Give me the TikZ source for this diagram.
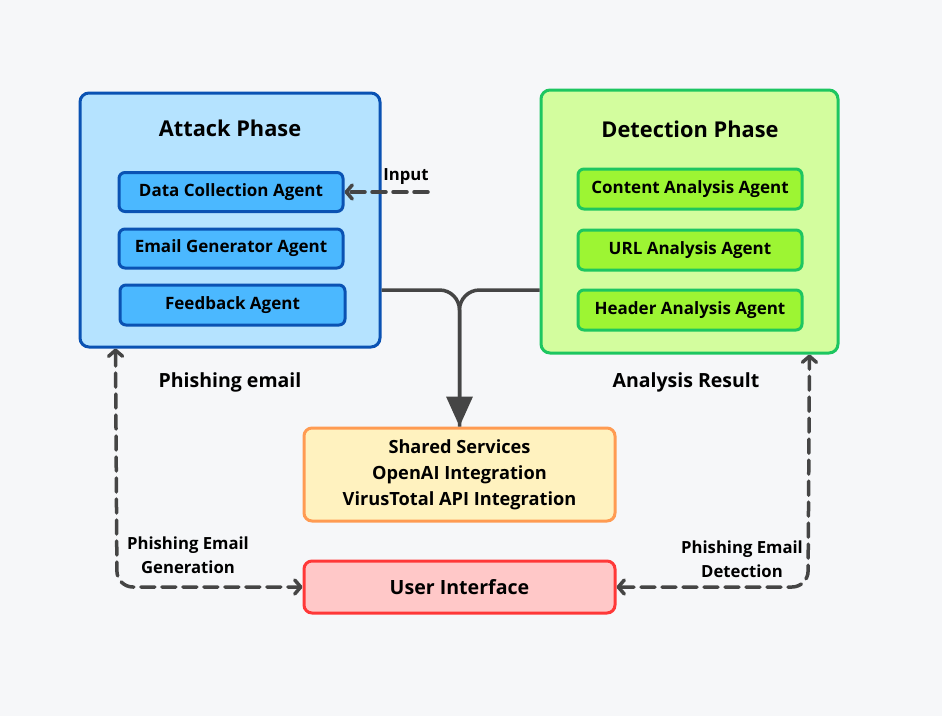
\documentclass[tikz,border=0pt]{standalone}
\usepackage{fontspec}
\setmainfont{Open Sans}
\usetikzlibrary{arrows.meta,positioning}
\definecolor{bggray}{HTML}{F6F7F9}
\definecolor{linegray}{HTML}{454545}
\definecolor{atkfill}{HTML}{B5E3FF}
\definecolor{atkdraw}{HTML}{0A52B3}
\definecolor{atkagent}{HTML}{4BB8FF}
\definecolor{detfill}{HTML}{D3FD9E}
\definecolor{detdraw}{HTML}{1DC660}
\definecolor{detagent}{HTML}{9DF533}
\definecolor{sharedfill}{HTML}{FFF2BF}
\definecolor{shareddraw}{HTML}{FF9B52}
\definecolor{uifill}{HTML}{FFC8C8}
\definecolor{uidraw}{HTML}{FF3838}
\tikzset{
  phasebox/.style={draw, line width=3pt, rounded corners=9pt},
  agentbox/.style={draw, line width=3pt, rounded corners=6pt, minimum width=224pt, minimum height=39pt, font=\fontsize{17}{20}\selectfont\bfseries},
  servicebox/.style={draw, line width=3pt, rounded corners=8pt, minimum width=311pt, align=center},
  flowlabel/.style={font=\fontsize{16.7}{24}\selectfont\bfseries, align=center},
  dashflow/.style={draw=linegray, line width=3.5pt, dash pattern=on 14pt off 7pt, rounded corners=16pt, line cap=round},
  barb/.tip={Straight Barb[length=6pt,width=14pt,line cap=round,line join=round]}
}
\begin{document}
\begin{tikzpicture}[x=1pt,y=-1pt]
\fill[bggray] (0,0) rectangle (942,716);
\useasboundingbox (0,0) rectangle (942,716);
% phases
\node[phasebox, fill=atkfill, draw=atkdraw, minimum width=300pt, minimum height=254pt] (attack) at (230,220) {};
\node[font=\fontsize{21.8}{24}\selectfont\bfseries] (attacktitle) at (230,128) {Attack Phase};
\node[agentbox, fill=atkagent, draw=atkdraw] (collect) at (231,192) {Data Collection Agent};
\node[agentbox, fill=atkagent, draw=atkdraw] (generate) at (231,248.5) {Email Generator Agent};
\node[agentbox, fill=atkagent, draw=atkdraw, minimum width=225pt, minimum height=40pt] (feedback) at (232.5,305) {Feedback Agent};
\node[phasebox, fill=detfill, draw=detdraw, minimum width=297pt, minimum height=263pt] (detect) at (689.5,221.5) {};
\node[font=\fontsize{21.8}{24}\selectfont\bfseries] (detecttitle) at (690,129) {Detection Phase};
\node[agentbox, fill=detagent, draw=detdraw, minimum height=40pt] (content) at (690,189) {Content Analysis Agent};
\node[agentbox, fill=detagent, draw=detdraw, minimum height=40pt] (url) at (690,250) {URL Analysis Agent};
\node[agentbox, fill=detagent, draw=detdraw, minimum height=40pt] (header) at (690,310) {Header Analysis Agent};
% services
\node[servicebox, fill=sharedfill, draw=shareddraw, minimum height=93pt, font=\fontsize{18.2}{26}\selectfont\bfseries] (shared) at (459.5,474.5) {Shared Services\\OpenAI Integration\\VirusTotal API Integration};
\node[servicebox, fill=uifill, draw=uidraw, minimum height=52pt, font=\fontsize{19.6}{22}\selectfont\bfseries] (ui) at (459.5,587) {User Interface};
% labels
\node[flowlabel] (inputlbl) at (406,177) {Input};
\node[flowlabel, font=\fontsize{19.5}{22}\selectfont\bfseries] (phishlbl) at (230,382) {Phishing email};
\node[flowlabel, font=\fontsize{19.5}{22}\selectfont\bfseries] (resultlbl) at (686,382) {Analysis Result};
\node[flowlabel] (genlbl) at (188,555) {Phishing Email\\Generation};
\node[flowlabel] (detlbl) at (742,559) {Phishing Email\\Detection};
% connectors
\coordinate (inputend) at (428,192);
\draw[dashflow, -barb] (inputend) -- (collect.east);
\draw[draw=linegray, line width=3.5pt, rounded corners=20pt] ([yshift=-68.5pt]detect.west) -| (shared.north);
\draw[draw=linegray, line width=3.5pt, rounded corners=20pt, -{Triangle[width=26pt,length=30pt,fill=linegray]}] ([yshift=-70pt]attack.east) -| (shared.north);
\draw[dashflow, barb-barb] ([xshift=37pt]attack.south west) -- (117,587) -- (ui.west);
\draw[dashflow, barb-barb] (ui.east) -- (808,587) -- ([xshift=-30pt]detect.south east);
\end{tikzpicture}
\end{document}
